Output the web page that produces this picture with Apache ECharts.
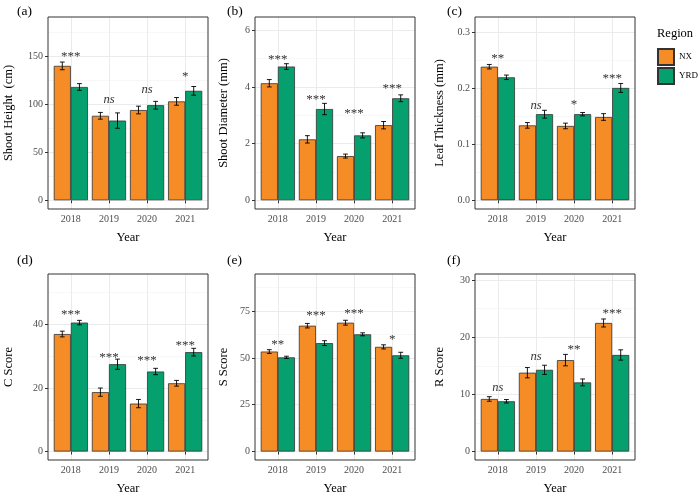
<!DOCTYPE html>
<html><head><meta charset="utf-8">
<script src="https://cdn.jsdelivr.net/npm/echarts@6/dist/echarts.min.js"></script>
<style>html,body{margin:0;padding:0;background:#fff}#c{width:700px;height:496px}</style>
</head><body><div id="c"></div>
<script>
// ---- data ----
const years = ['2018', '2019', '2020', '2021'];
const regions = ['NX', 'YRD'];

const heightNX = [140, 88, 94, 103];
const heightYRD = [118, 83, 99, 114];
const heightNXse = [4, 3.5, 4, 4];
const heightYRDse = [3.5, 8, 4, 4.5];
const heightSig = ['***', 'ns', 'ns', '*'];
const heightSigY = [153, 105, 115, 133];
const heightTicks = [0, 50, 100, 150];
const heightMinor = [25, 75, 125, 175];

const diamNX = [4.13, 2.15, 1.56, 2.65];
const diamYRD = [4.72, 3.22, 2.29, 3.60];
const diamNXse = [0.13, 0.13, 0.07, 0.13];
const diamYRDse = [0.10, 0.20, 0.09, 0.12];
const diamSig = ['***', '***', '***', '***'];
const diamSigY = [5.09, 3.66, 3.18, 4.06];
const diamTicks = [0, 2, 4, 6];
const diamMinor = [1, 3, 5];

const leafNX = [0.239, 0.134, 0.133, 0.149];
const leafYRD = [0.220, 0.154, 0.154, 0.201];
const leafNXse = [0.004, 0.005, 0.005, 0.006];
const leafYRDse = [0.004, 0.007, 0.003, 0.008];
const leafSig = ['**', 'ns', '*', '***'];
const leafSigY = [0.259, 0.170, 0.178, 0.224];
const leafTicks = [0.0, 0.1, 0.2, 0.3];
const leafMinor = [0.05, 0.15, 0.25];

const cNX = [37.0, 18.7, 15.1, 21.5];
const cYRD = [40.6, 27.5, 25.2, 31.3];
const cNXse = [0.9, 1.3, 1.3, 0.9];
const cYRDse = [0.7, 1.6, 1.0, 1.2];
const cSig = ['***', '***', '***', '***'];
const cSigY = [44.3, 30.8, 29.8, 34.6];
const cTicks = [0, 20, 40];
const cMinor = [10, 30, 50];

const sNX = [53.4, 67.2, 68.8, 55.9];
const sYRD = [50.3, 57.9, 62.6, 51.4];
const sNXse = [1.0, 1.2, 1.3, 1.1];
const sYRDse = [0.6, 1.3, 0.8, 1.6];
const sSig = ['**', '***', '***', '*'];
const sSigY = [59.1, 74.7, 75.4, 61.9];
const sTicks = [0, 25, 50, 75];
const sMinor = [12.5, 37.5, 62.5, 87.5];

const rNX = [9.2, 13.8, 16.0, 22.5];
const rYRD = [8.8, 14.3, 12.1, 16.9];
const rNXse = [0.4, 0.9, 1.0, 0.7];
const rYRDse = [0.3, 0.8, 0.6, 0.9];
const rSig = ['ns', 'ns', '**', '***'];
const rSigY = [11.1, 16.6, 18.5, 24.7];
const rTicks = [0, 10, 20, 30];
const rMinor = [5, 15, 25];

// ---- panels ----
const panels = [
  {tag: '(a)', title: 'Shoot Height  (cm)', nx: heightNX, yrd: heightYRD, nxse: heightNXse, yrdse: heightYRDse, sig: heightSig, sigY: heightSigY, ticks: heightTicks, minor: heightMinor, min: -9.1, max: 190.9, dec: 0},
  {tag: '(b)', title: 'Shoot Diameter (mm)', nx: diamNX, yrd: diamYRD, nxse: diamNXse, yrdse: diamYRDse, sig: diamSig, sigY: diamSigY, ticks: diamTicks, minor: diamMinor, min: -0.308, max: 6.468, dec: 0},
  {tag: '(c)', title: 'Leaf Thickness (mm)', nx: leafNX, yrd: leafYRD, nxse: leafNXse, yrdse: leafYRDse, sig: leafSig, sigY: leafSigY, ticks: leafTicks, minor: leafMinor, min: -0.0156, max: 0.3279, dec: 1},
  {tag: '(d)', title: 'C Score', nx: cNX, yrd: cYRD, nxse: cNXse, yrdse: cYRDse, sig: cSig, sigY: cSigY, ticks: cTicks, minor: cMinor, min: -2.66, max: 55.9, dec: 0},
  {tag: '(e)', title: 'S Score', nx: sNX, yrd: sYRD, nxse: sNXse, yrdse: sYRDse, sig: sSig, sigY: sSigY, ticks: sTicks, minor: sMinor, min: -4.5, max: 94.8, dec: 0},
  {tag: '(f)', title: 'R Score', nx: rNX, yrd: rYRD, nxse: rNXse, yrdse: rYRDse, sig: rSig, sigY: rSigY, ticks: rTicks, minor: rMinor, min: -1.48, max: 31.07, dec: 0}
];

const lefts = [48, 255, 475];
const tops = [17, 274];
const tagLefts = [17, 227, 447];
const tagTops = [4, 253];
const GW = 160, GH = 192;
const ORANGE = '#F68C26', GREEN = '#06A06F';
const FONT = '"Liberation Serif", "Times New Roman", serif';
const xPos = years.map((_, i) => i + 1);
const dodge = 0.225;

const grid = [], xAxis = [], yAxis = [], series = [], graphic = [];

panels.forEach((p, k) => {
  const col = k % 3, row = Math.floor(k / 3);
  const L = lefts[col], T = tops[row];
  grid.push({left: L, top: T, width: GW, height: GH, show: true, borderColor: '#333333', borderWidth: 1, backgroundColor: 'transparent', z: 5});
  xAxis.push({
    type: 'value', gridIndex: k, min: 0.4, max: 4.6,
    name: 'Year', nameLocation: 'middle', nameGap: 22,
    nameTextStyle: {fontFamily: FONT, fontSize: 12.5, color: '#000'},
    axisLine: {show: false},
    axisTick: {show: true, length: 3, lineStyle: {color: '#333', width: 1}, customValues: xPos},
    axisLabel: {customValues: xPos, formatter: v => years[Math.round(v) - 1], fontFamily: FONT, fontSize: 10, color: '#4D4D4D', margin: 5},
    splitLine: {show: true, lineStyle: {color: '#EBEBEB', width: 1}}
  });
  yAxis.push({
    type: 'value', gridIndex: k, min: p.min, max: p.max,
    name: p.title, nameLocation: 'middle', nameGap: col === 0 ? 33 : (col === 1 ? 25 : 29),
    nameTextStyle: {fontFamily: FONT, fontSize: 12.5, color: '#000'},
    axisLine: {show: false},
    axisTick: {show: true, length: 3, lineStyle: {color: '#333', width: 1}, customValues: p.ticks},
    axisLabel: {customValues: p.ticks, formatter: v => v.toFixed(p.dec), fontFamily: FONT, fontSize: 10, color: '#4D4D4D', margin: 5},
    splitLine: {show: true, lineStyle: {color: '#EBEBEB', width: 1}}
  });
  // hidden minor grid axis
  yAxis.push({
    type: 'value', gridIndex: k, min: p.min, max: p.max, position: 'right',
    axisLine: {show: false}, axisLabel: {show: false},
    axisTick: {show: false, customValues: p.minor},
    splitLine: {show: true, lineStyle: {color: '#F3F3F3', width: 0.7}}
  });
  const yIdx = yAxis.length - 2;
  const mk = (name, vals, color) => ({
    type: 'bar', name: name, xAxisIndex: k, yAxisIndex: yIdx,
    data: vals.map((v, i) => [xPos[i], v]),
    barWidth: 17.1, barGap: '0%',
    itemStyle: {color: color, borderColor: '#333333', borderWidth: 0.8},
    emphasis: {disabled: true}, z: 2
  });
  series.push(mk(regions[0], p.nx, ORANGE));
  series.push(mk(regions[1], p.yrd, GREEN));
  // error bars
  const errData = [];
  p.nx.forEach((v, i) => errData.push([xPos[i] - dodge, v, p.nxse[i]]));
  p.yrd.forEach((v, i) => errData.push([xPos[i] + dodge, v, p.yrdse[i]]));
  series.push({
    type: 'custom', xAxisIndex: k, yAxisIndex: yIdx, data: errData, z: 10, silent: true,
    renderItem: (params, api) => {
      const x = api.value(0), m = api.value(1), e = api.value(2);
      const top = api.coord([x, m + e]), bot = api.coord([x, m - e]);
      const cw = 2.4;
      const st = {stroke: '#000', lineWidth: 0.9};
      return {type: 'group', children: [
        {type: 'line', shape: {x1: top[0], y1: top[1], x2: bot[0], y2: bot[1]}, style: st},
        {type: 'line', shape: {x1: top[0] - cw, y1: top[1], x2: top[0] + cw, y2: top[1]}, style: st},
        {type: 'line', shape: {x1: bot[0] - cw, y1: bot[1], x2: bot[0] + cw, y2: bot[1]}, style: st}
      ]};
    }
  });
  // significance labels
  series.push({
    type: 'custom', xAxisIndex: k, yAxisIndex: yIdx,
    data: p.sig.map((s, i) => [xPos[i], p.sigY[i], s]), z: 11, silent: true,
    renderItem: (params, api) => {
      const i = params.dataIndex;
      const s = p.sig[i];
      const c = api.coord([api.value(0), api.value(1)]);
      const isNs = s === 'ns';
      return {type: 'text', x: c[0], y: c[1] + (isNs ? 0 : 3.5),
        style: {text: s, fontFamily: FONT, fontSize: isNs ? 12.5 : 13, fontStyle: isNs ? 'italic' : 'normal',
          fill: '#333333', align: 'center', verticalAlign: 'middle'}};
    }
  });
  graphic.push({type: 'text', left: tagLefts[col], top: tagTops[row], style: {text: p.tag, fontFamily: FONT, fontSize: 13.5, fill: '#000'}});
});

graphic.push({type: 'text', left: 657, top: 27, style: {text: 'Region', fontFamily: FONT, fontSize: 12.5, fill: '#000'}});

const option = {
  animation: false,
  textStyle: {fontFamily: FONT},
  grid, xAxis, yAxis, series, graphic,
  legend: {
    data: regions, orient: 'vertical', left: 657, top: 48, padding: 0,
    itemWidth: 16, itemHeight: 16, itemGap: 1, icon: 'rect',
    textStyle: {fontFamily: FONT, fontSize: 9, color: '#000'}
  }
};
const chart = echarts.init(document.getElementById('c'), null, {renderer: 'canvas'});
chart.setOption(option);
</script></body></html>
